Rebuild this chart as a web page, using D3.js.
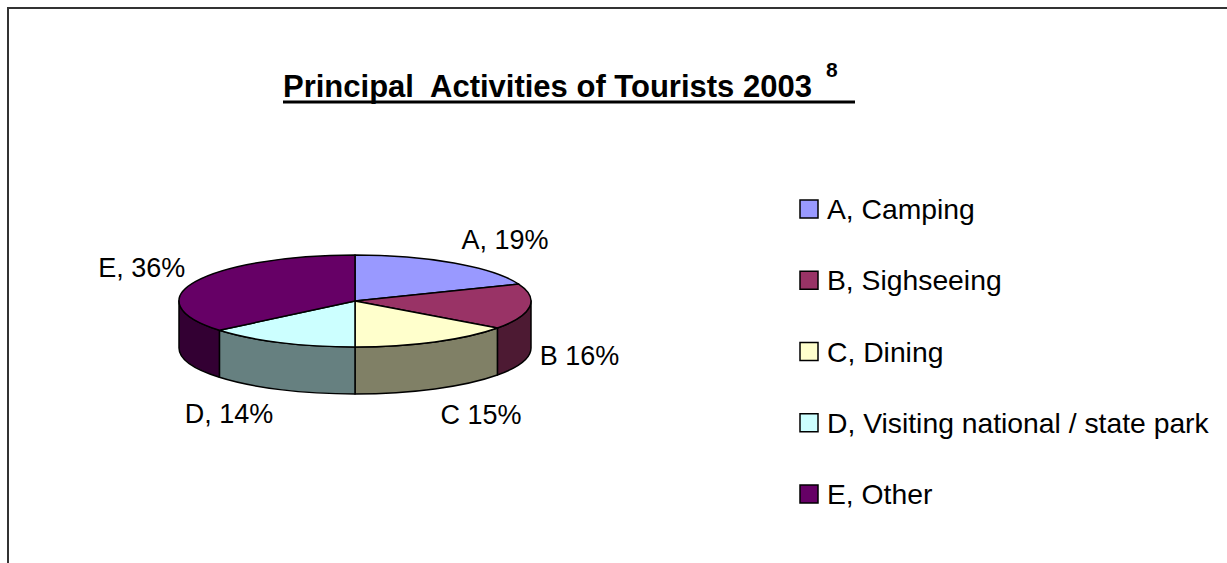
<!DOCTYPE html>
<html>
<head>
<meta charset="utf-8">
<script src="https://cdn.jsdelivr.net/npm/d3@7"></script>
<style>
  body { margin: 0; background: #fff; }
  text { font-family: "Liberation Sans", Arial, sans-serif; fill: #000; }
</style>
</head>
<body>
<div id="chart"></div>
<script>
// chart data
const categories = ["A, Camping", "B, Sighseeing", "C, Dining", "D, Visiting national / state park", "E, Other"];
const values = [19, 16, 15, 14, 36];
const sliceLabels = ["A, 19%", "B 16%", "C 15%", "D, 14%", "E, 36%"];
const colors = ["#9999FF", "#993366", "#FFFFCC", "#CCFFFF", "#660066"];

const width = 1227, height = 563;
const cx = 355, cy = 301, rx = 176, ry = 46, depth = 47;

const svg = d3.select("#chart").append("svg")
    .attr("width", width)
    .attr("height", height);

// outer frame (only left and top edges fall inside the picture)
svg.append("rect")
    .attr("x", 8).attr("y", 8)
    .attr("width", 1400).attr("height", 800)
    .attr("fill", "none")
    .attr("stroke", "#333")
    .attr("stroke-width", 2);

// title
const title = svg.append("text")
    .attr("x", 283).attr("y", 97)
    .style("font-weight", "bold")
    .style("font-size", "31px")
    .style("white-space", "pre");
title.append("tspan").text("Principal  Activities of Tourists 2003");
title.append("tspan")
    .attr("dx", 14).attr("dy", -20)
    .style("font-size", "21px")
    .text("8");
svg.append("rect")
    .attr("x", 283).attr("y", 100.5)
    .attr("width", 572).attr("height", 3)
    .attr("fill", "#000");

const color = d3.scaleOrdinal().domain(categories).range(colors);
const shade = c => {
    const r = d3.rgb(c);
    return d3.rgb(r.r * 0.5, r.g * 0.5, r.b * 0.5).toString();
};

const pie = d3.pie().sort(null).startAngle(0).endAngle(2 * Math.PI);
const arcs = pie(values).map((d, i) => ({...d, cat: categories[i], label: sliceLabels[i]}));

const px = a => cx + rx * Math.sin(a);
const py = (a, off = 0) => cy - ry * Math.cos(a) + off;

// visible front walls
const g = svg.append("g");
arcs.forEach(d => {
    const a0 = Math.max(d.startAngle, Math.PI / 2);
    const a1 = Math.min(d.endAngle, 3 * Math.PI / 2);
    if (a1 <= a0) return;
    const p = `M${px(a0)},${py(a0)}`
        + ` A${rx},${ry} 0 0 1 ${px(a1)},${py(a1)}`
        + ` L${px(a1)},${py(a1, depth)}`
        + ` A${rx},${ry} 0 0 0 ${px(a0)},${py(a0, depth)} Z`;
    g.append("path")
        .attr("d", p)
        .attr("fill", shade(color(d.cat)))
        .attr("stroke", "#000")
        .attr("stroke-width", 1.5)
        .attr("stroke-linejoin", "round");
});

// top faces
arcs.forEach(d => {
    const large = d.endAngle - d.startAngle > Math.PI ? 1 : 0;
    const p = `M${cx},${cy} L${px(d.startAngle)},${py(d.startAngle)}`
        + ` A${rx},${ry} 0 ${large} 1 ${px(d.endAngle)},${py(d.endAngle)} Z`;
    g.append("path")
        .attr("d", p)
        .attr("fill", color(d.cat))
        .attr("stroke", "#000")
        .attr("stroke-width", 1.5)
        .attr("stroke-linejoin", "round");
});

// slice labels, placed from the slice mid angle and nudged like Excel
const nudge = [[51, -23], [50, 2], [46, 26], [-51, 24], [-54, -13]];
arcs.forEach((d, i) => {
    const m = (d.startAngle + d.endAngle) / 2;
    const front = Math.cos(m) < 0;
    const x = px(m) + nudge[i][0];
    const y = py(m, front ? depth : 0) + nudge[i][1];
    svg.append("text")
        .attr("x", x).attr("y", y)
        .attr("text-anchor", "middle")
        .attr("dominant-baseline", "central")
        .style("font-size", "27px")
        .text(d.label);
});

// legend
const ly = d3.scalePoint().domain(categories).range([209, 494]);
const leg = svg.append("g").selectAll("g")
    .data(categories)
    .join("g")
    .attr("transform", d => `translate(800,${ly(d)})`);
leg.append("rect")
    .attr("x", 0).attr("y", -9)
    .attr("width", 18).attr("height", 18)
    .attr("fill", d => color(d))
    .attr("stroke", "#000")
    .attr("stroke-width", 1.5);
leg.append("text")
    .attr("x", 27).attr("y", 0)
    .attr("dominant-baseline", "central")
    .style("font-size", "28.3px")
    .text(d => d);
</script>
</body>
</html>
